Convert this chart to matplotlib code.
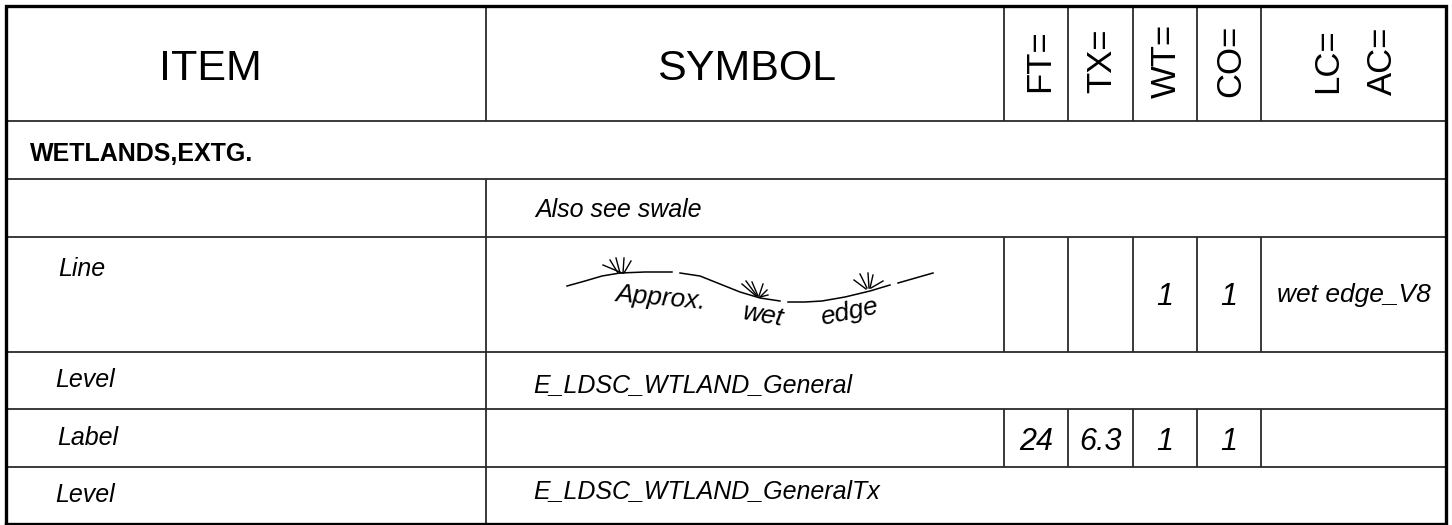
import matplotlib
matplotlib.use("Agg")
import matplotlib.pyplot as plt

# ---------------- data ----------------
header_main = ["ITEM", "SYMBOL"]
header_codes = ["FT=", "TX=", "WT=", "CO="]
header_last = ["LC=", "AC="]
section_title = "WETLANDS,EXTG."
item_labels = ["Line", "Level", "Label", "Level"]
symbol_notes = ["Also see swale", "E_LDSC_WTLAND_General", "E_LDSC_WTLAND_GeneralTx"]
line_values = ["", "", "1", "1"]          # FT, TX, WT, CO for "Line"
line_lc = "wet edge_V8"
label_values = ["24", "6.3", "1", "1"]    # FT, TX, WT, CO for "Label"
symbol_words = ["Approx.", "wet", "edge"]

# symbol geometry (wet edge line drawn in the SYMBOL cell)
sym_seg1 = [(567, 286), (585, 281), (602, 276), (620, 273), (645, 272), (672, 272)]
sym_seg2 = [(680, 273), (700, 276), (720, 284), (740, 292), (760, 298), (780, 301)]
sym_seg3 = [(788, 302), (805, 302), (822, 301), (845, 297), (870, 291), (890, 285)]
sym_seg4 = [(898, 283), (933, 273)]
tuft1 = [((622, 273), (603, 265)), ((618, 273), (610, 260)), ((620, 273), (616, 258)),
         ((623, 273), (624, 258)), ((624, 273), (631, 261))]
tuft2 = [((756, 296), (742, 284)), ((757, 296), (746, 281)), ((758, 296), (752, 282)),
         ((759, 296), (763, 284)), ((760, 297), (767, 290)), ((760, 297), (768, 295))]
tuft3 = [((866, 289), (854, 280)), ((867, 288), (860, 274)), ((869, 288), (868, 273)),
         ((870, 288), (873, 275)), ((871, 288), (883, 281))]

# ---------------- layout ----------------
W, H = 1452, 525
fig = plt.figure(figsize=(W / 100, H / 100), dpi=100)
ax = fig.add_axes([0, 0, 1, 1])
ax.set_xlim(0, W)
ax.set_ylim(H, 0)
ax.axis("off")

X0, X1 = 5.5, 1446
XI = 486
XC = [1004, 1068, 1133, 1197, 1261]
Y = [5.5, 121, 179, 237, 352, 409, 467, 523.5]

thin = dict(color="#2a2a2a", lw=1.3, solid_capstyle="butt")

for y in Y[1:-1]:
    ax.plot([X0, X1], [y, y], **thin)
for ya, yb in [(Y[0], Y[1]), (Y[2], Y[7])]:
    ax.plot([XI, XI], [ya, yb], **thin)
for ya, yb in [(Y[0], Y[1]), (Y[3], Y[4]), (Y[5], Y[6])]:
    for x in XC:
        ax.plot([x, x], [ya, yb], **thin)

ax.plot([X0, X1, X1, X0, X0], [Y[-1], Y[-1], Y[0], Y[0], Y[-1]],
        color="black", lw=2.4, solid_joinstyle="miter")

# ---------------- header text ----------------
hfont = dict(family="Liberation Sans", color="black")
ax.text(210, 80, header_main[0], ha="center", va="baseline", fontsize=31, **hfont)
ax.text(747, 80, header_main[1], ha="center", va="baseline", fontsize=31, **hfont)

code_x = [1040, 1102, 1166, 1231]
for s, x in zip(header_codes, code_x):
    ax.text(x, 61, s, rotation=90, ha="center", va="center", fontsize=25, **hfont)
for s, x in zip(header_last, [1328, 1382]):
    ax.text(x, 61, s, rotation=90, ha="center", va="center", fontsize=25, **hfont)

ax.text(30, 161, section_title, ha="left", va="baseline", fontsize=18,
        fontweight="bold", **hfont)

# ---------------- body text ----------------
ifont = dict(family="Liberation Sans", style="italic", color="black")
item_pos = [(58, 276), (55, 387), (57, 445), (55, 502)]
for s, (x, y) in zip(item_labels, item_pos):
    ax.text(x, y, s, ha="left", va="baseline", fontsize=18, **ifont)

note_pos = [(535, 217), (533, 392), (533, 498)]
for s, (x, y) in zip(symbol_notes, note_pos):
    ax.text(x, y, s, ha="left", va="baseline", fontsize=18, **ifont)

col_centers = [(XC[i] + XC[i + 1]) / 2 for i in range(4)]
for s, x in zip(line_values, col_centers):
    if s:
        ax.text(x, 305, s, ha="center", va="baseline", fontsize=22, **ifont)
ax.text((XC[4] + X1) / 2, 302, line_lc, ha="center", va="baseline", fontsize=19, **ifont)
for s, x in zip(label_values, col_centers):
    ax.text(x, 450, s, ha="center", va="baseline", fontsize=22, **ifont)

# ---------------- symbol drawing ----------------
for seg in [sym_seg1, sym_seg2, sym_seg3, sym_seg4]:
    xs, ys = zip(*seg)
    ax.plot(xs, ys, color="black", lw=1.1)
for tuft in [tuft1, tuft2, tuft3]:
    for (a, b) in tuft:
        ax.plot([a[0], b[0]], [a[1], b[1]], color="black", lw=1.0)

word_pos = [(615, 301, -5), (742, 319, -10), (822, 325, 12)]
for s, (x, y, r) in zip(symbol_words, word_pos):
    ax.text(x, y, s, ha="left", va="baseline", rotation=r, rotation_mode="anchor",
            fontsize=19, **ifont)

fig.savefig("out.png", dpi=100, facecolor="white")
